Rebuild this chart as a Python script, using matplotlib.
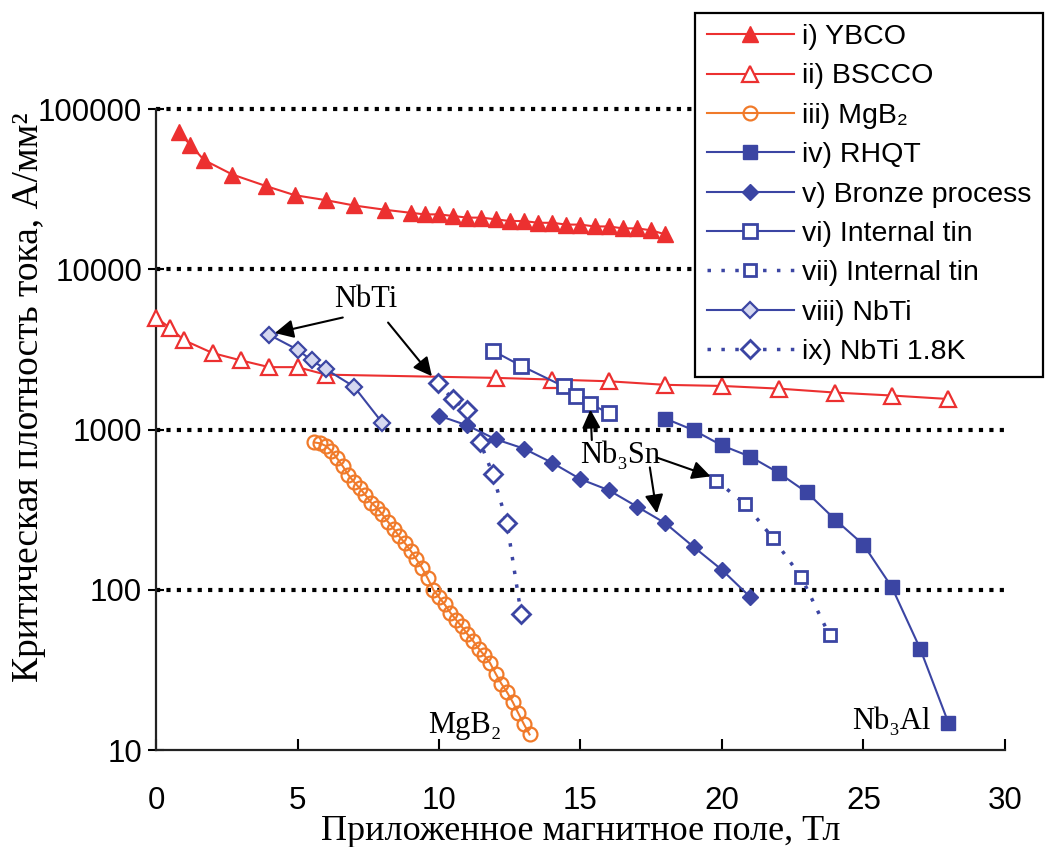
import matplotlib
matplotlib.use("Agg")
import matplotlib.pyplot as plt
from matplotlib.ticker import FixedLocator, FuncFormatter

# field values (T) and critical current density (A/mm2)
ybco_x = [0.8, 1.2, 1.7, 2.7, 3.9, 4.9, 6.0, 7.0, 8.1, 9.0, 9.5, 10.0, 10.5, 11.0,
          11.5, 12.0, 12.5, 13.0, 13.5, 14.0, 14.5, 15.0, 15.5, 16.0, 16.5, 17.0, 17.5, 18.0]
ybco_y = [72000, 60000, 48000, 39000, 33000, 29000, 27000, 25000, 23500, 22500, 22000,
          22000, 21500, 21000, 21000, 20500, 20000, 20000, 19500, 19500, 19000, 19000,
          18500, 18500, 18000, 18000, 17500, 16500]

bscco_x = [0, 0.5, 1, 2, 3, 4, 5, 6, 12, 14, 16, 18, 20, 22, 24, 26, 28]
bscco_y = [5000, 4300, 3600, 3000, 2700, 2450, 2450, 2200, 2100, 2050, 2000, 1900,
           1870, 1800, 1700, 1630, 1550]

mgb2_x = [5.6, 5.8, 6.0, 6.2, 6.4, 6.6, 6.8, 7.0, 7.2, 7.4, 7.6, 7.8, 8.0, 8.2, 8.4,
          8.6, 8.8, 9.0, 9.2, 9.4, 9.6, 9.8, 10.0, 10.2, 10.4, 10.6, 10.8, 11.0, 11.2,
          11.4, 11.6, 11.8, 12.0, 12.2, 12.4, 12.6, 12.8, 13.0, 13.2]
mgb2_y = [830, 820, 790, 735, 660, 590, 520, 470, 430, 390, 350, 325, 295, 265, 240,
          215, 195, 175, 155, 137, 118, 100, 90, 81, 72, 65, 59, 53, 48, 43, 39, 35,
          30, 26, 23, 20, 17, 14.5, 12.5]

rhqt_x = [18, 19, 20, 21, 22, 23, 24, 25, 26, 27, 28]
rhqt_y = [1170, 990, 795, 677, 537, 405, 274, 191, 104, 43, 14.8]

bronze_x = [10, 11, 12, 13, 14, 15, 16, 17, 18, 19, 20, 21]
bronze_y = [1220, 1060, 870, 760, 620, 490, 418, 330, 260, 185, 133, 90]

itin_x = [11.9, 12.9, 14.4, 14.85, 15.35, 16.0]
itin_y = [3100, 2500, 1860, 1620, 1450, 1260]

itin2_x = [19.8, 20.8, 21.8, 22.8, 23.8]
itin2_y = [480, 345, 210, 120, 52]

nbti_x = [4, 5, 5.5, 6, 7, 8]
nbti_y = [3900, 3150, 2700, 2380, 1850, 1100]

nbti18_x = [9.95, 10.5, 11.0, 11.45, 11.9, 12.4, 12.9]
nbti18_y = [1950, 1540, 1320, 840, 525, 262, 71]

red = '#ec3030'
orange = '#f07a2a'
blue = '#3b45a3'

plt.rcParams['font.family'] = ['Liberation Sans', 'DejaVu Sans']
serif = ['Liberation Serif', 'DejaVu Serif']

fig = plt.figure(figsize=(10.52, 8.47), dpi=100)
ax = fig.add_axes([0.1483, 0.1145, 0.807, 0.7568])

# dotted decade lines
for lvl in [100, 1000, 10000, 100000]:
    ax.axhline(lvl, color='black', lw=3, linestyle=(0, (1, 1.5)), zorder=1, clip_on=False)

common = dict(clip_on=False, zorder=3)
ax.plot(ybco_x, ybco_y, color=red, lw=1.5, marker='^', ms=12, mfc=red, mec=red,
        label='i) YBCO', **common)
ax.plot(bscco_x, bscco_y, color=red, lw=1.5, marker='^', ms=11, mfc='white', mec=red,
        mew=1.6, label='ii) BSCCO', **common)
ax.plot(mgb2_x, mgb2_y, color=orange, lw=1.5, marker='o', ms=10, mfc='none', mec=orange,
        mew=1.6, label='iii) MgB\u2082', **common)
ax.plot(rhqt_x, rhqt_y, color=blue, lw=1.5, marker='s', ms=10, mfc=blue, mec=blue,
        label='iv) RHQT', **common)
ax.plot(bronze_x, bronze_y, color=blue, lw=1.5, marker='D', ms=8, mfc=blue, mec=blue,
        label='v) Bronze process', **common)
ax.plot(itin_x, itin_y, color=blue, lw=1.5, marker='s', ms=10, mfc='white', mec=blue,
        mew=2, label='vi) Internal tin', **common)
ax.plot(itin2_x, itin2_y, color=blue, lw=2.5, linestyle=(0, (1, 3)), marker='s', ms=9,
        mfc='white', mec=blue, mew=2, label='vii) Internal tin', **common)
ax.plot(nbti_x, nbti_y, color=blue, lw=1.5, marker='D', ms=8, mfc='#d4d7f0', mec=blue,
        mew=1.6, label='viii) NbTi', **common)
ax.plot(nbti18_x, nbti18_y, color=blue, lw=2.5, linestyle=(0, (1, 3)), marker='D', ms=9,
        mfc='white', mec=blue, mew=2, label='ix) NbTi 1.8K', **common)

ax.set_yscale('log')
ax.set_xlim(0, 30)
ax.set_ylim(10, 100000)
ax.yaxis.set_major_locator(FixedLocator([10, 100, 1000, 10000, 100000]))
ax.yaxis.set_minor_locator(FixedLocator([]))
ax.yaxis.set_major_formatter(FuncFormatter(lambda v, p: '%d' % v))
ax.set_xticks(range(0, 31, 5))

for s in ['top', 'right']:
    ax.spines[s].set_visible(False)
for s in ['left', 'bottom']:
    ax.spines[s].set_linewidth(1.6)
    ax.spines[s].set_color('#222222')

ax.tick_params(axis='y', direction='inout', length=12, width=1.5, labelsize=22.5, pad=4)
ax.tick_params(axis='x', direction='in', length=8, width=1.5, labelsize=22.5, pad=26)

ax.set_xlabel('Приложенное магнитное поле, Тл', family=serif, fontsize=26)
ax.set_ylabel('Критическая плотность тока, А/мм\u00b2', family=serif, fontsize=27)
ax.xaxis.set_label_coords(0.5, -0.102)
ax.yaxis.set_label_coords(-0.13, 0.55)

# annotations
arrow = dict(arrowstyle='-|>', color='black', lw=1.5, mutation_scale=28, shrinkA=0, shrinkB=0)
ax.text(7.4, 6500, 'NbTi', family=serif, fontsize=22, ha='center', va='center')
ax.annotate('', xy=(nbti_x[0] + 0.2, nbti_y[0] + 100), xytext=(6.6, 5000), arrowprops=arrow)
ax.annotate('', xy=(nbti18_x[0] - 0.2, nbti18_y[0] + 200), xytext=(8.2, 4650), arrowprops=arrow)

ax.text(16.4, 690, 'Nb\u2083Sn', family=serif, fontsize=22, ha='center', va='center')
ax.annotate('', xy=(15.35, 1330), xytext=(15.4, 860), arrowprops=arrow)
ax.annotate('', xy=(itin2_x[0] - 0.2, itin2_y[0] + 30), xytext=(17.7, 668), arrowprops=arrow)
ax.annotate('', xy=(17.7, 300), xytext=(17.45, 580), arrowprops=arrow)

ax.text(10.9, 14.3, 'MgB\u2082', family=serif, fontsize=22, ha='center', va='center')
ax.text(26.0, 15, 'Nb\u2083Al', family=serif, fontsize=22, ha='center', va='center')

leg = ax.legend(loc='upper left', bbox_to_anchor=(0.661, 0.985), bbox_transform=fig.transFigure,
                borderaxespad=0, fontsize=20.5, handlelength=3.05, handletextpad=0.3,
                labelspacing=0.47, borderpad=0.4, fancybox=False, framealpha=1,
                edgecolor='black')
leg.get_frame().set_linewidth(1.6)
leg.set_zorder(10)

fig.savefig('out.png', dpi=100)
